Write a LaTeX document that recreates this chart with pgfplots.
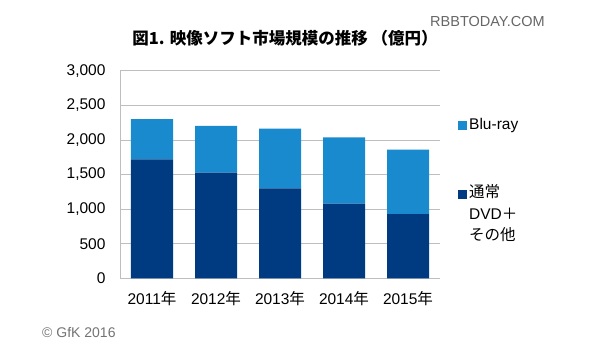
\documentclass[border=0pt]{standalone}
\usepackage{pgfplots}
\pgfplotsset{compat=1.18}
\usepackage{fontspec}
\setmainfont{Liberation Sans}
\newfontfamily\cjk{Noto Sans CJK JP}
\definecolor{bluray}{RGB}{24,138,205}
\definecolor{dvd}{RGB}{0,58,128}
\definecolor{gridc}{RGB}{190,190,190}
\begin{document}
\begin{tikzpicture}
\path[use as bounding box] (0pt,0pt) rectangle (603pt,-353pt);
\begin{axis}[
  at={(152pt,-278.3pt)}, anchor=origin,
  scale only axis, width=320pt, height=207.6pt,
  ybar stacked, bar width=42pt,
  xmin=-0.5, xmax=4.5, ymin=0, ymax=3000,
  xtick=data,
  xticklabels={2011{\cjk 年},2012{\cjk 年},2013{\cjk 年},2014{\cjk 年},2015{\cjk 年}},
  ytick={0,500,1000,1500,2000,2500,3000},
  /pgf/number format/assume math mode=true,
  /pgf/number format/1000 sep={,},
  scaled y ticks=false,
  ymajorgrids, grid style={gridc, line width=0.8pt},
  axis x line*=bottom, axis y line*=left,
  axis line style={gridc, line width=0.8pt, -},
  major tick length=0pt,
  tick label style={font=\fontsize{15.5}{18}\selectfont},
  yticklabel style={xshift=-11pt},
  xticklabel style={yshift=-10pt},
  reverse legend,
  legend cell align=left,
  legend style={at={(458pt-120pt,278.3pt-116pt)}, anchor=north west, draw=none, fill=none,
    inner sep=0pt, row sep=48pt,
    font=\fontsize{15.5}{21.5}\selectfont,
    nodes={anchor=base west}},
  legend image code/.code={\fill[#1] (0pt,-1pt) rectangle (9pt,8pt);},
]
\addplot[fill=dvd, draw=none] coordinates {(0,1720) (1,1526) (2,1300) (3,1078) (4,929)};
\addlegendentry{\begin{tabular}[t]{@{}l@{}}{\cjk 通常}\\DVD{\cjk ＋}\\{\cjk その他}\end{tabular}}
\addplot[fill=bluray, draw=none] coordinates {(0,582) (1,675) (2,862) (3,959) (4,929)};
\addlegendentry{Blu-ray}
\end{axis}
\node[anchor=center, font=\cjk\bfseries\fontsize{16.5}{19}\selectfont] at (285pt,-38pt) {図1. 映像ソフト市場規模の推移 （億円）};
\node[anchor=west, text=black!60, font=\fontsize{14.5}{16}\selectfont, inner sep=0pt] at (430pt,-22pt) {RBBTODAY.COM};
\node[anchor=west, text=black!55, font=\fontsize{14}{16}\selectfont, inner sep=0pt] at (42pt,-333pt) {© GfK 2016};
\end{tikzpicture}
\end{document}
